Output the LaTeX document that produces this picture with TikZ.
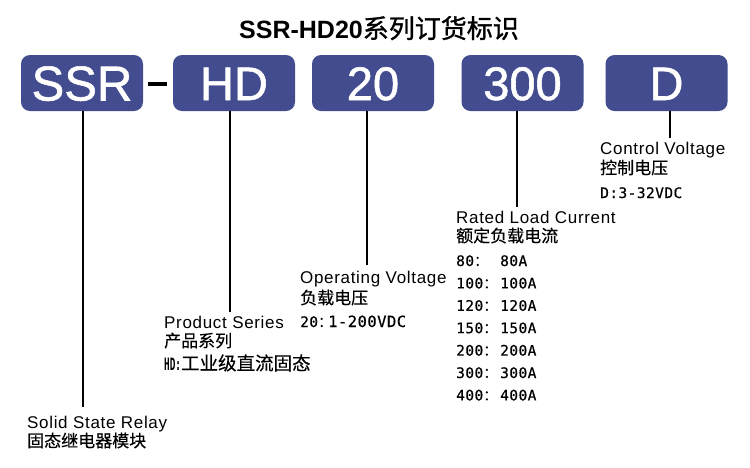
\documentclass[tikz,border=0pt]{standalone}
\usepackage{fontspec}
\usepackage{graphicx}
\setmainfont{Liberation Sans}
\newfontfamily\cjk[FakeBold=0.4]{Noto Sans CJK SC}
\newfontfamily\cjktitle[FakeBold=1.2]{Noto Sans CJK SC}
\newfontfamily\boxfont[FakeBold=1.2]{Liberation Sans}
\newfontfamily\mono[LetterSpace=3,FakeBold=0.5]{DejaVu Sans Mono}
\newfontfamily\monob{DejaVu Sans Mono}
\newfontfamily\lab[LetterSpace=4]{Liberation Sans}
\definecolor{boxblue}{RGB}{67,76,143}
\begin{document}
\begin{tikzpicture}[x=1pt,y=-1pt,
  codebox/.style={fill=boxblue, rounded corners=9pt, minimum width=122pt, minimum height=56pt,
    inner sep=0pt, text=white, font=\boxfont\fontsize{47}{47}\selectfont, text height=34pt, text depth=0pt},
  eng/.style={anchor=base west, inner sep=0pt, font=\lab\fontsize{17}{17}\selectfont},
  zh/.style={anchor=base west, inner sep=0pt, font=\cjk\fontsize{17}{17}\selectfont},
  code/.style={anchor=base west, inner sep=0pt, font=\mono\fontsize{14.5}{14.5}\selectfont},
  lead/.style={line width=1.5pt}]
\useasboundingbox (0,0) rectangle (750,467);
\fill[white] (0,0) rectangle (750,467);

% title
\node[anchor=base, inner sep=0pt] (title) at (379,38)
  {\fontsize{25}{25}\selectfont\bfseries SSR-HD20{\cjktitle\mdseries\fontsize{26}{26}\selectfont 系列订货标识}};

% code boxes
\node[codebox, font=\boxfont\fontsize{49}{49}\selectfont, text height=35pt] (bSSR) at (82,83) {SSR};
\node[fill=black, minimum width=19pt, minimum height=4pt, inner sep=0pt] (dash) at (157.5,84) {};
\node[codebox] (bHD) at (234,83) {HD};
\node[codebox] (b20) at (373,83) {20};
\node[codebox] (b300) at (522.5,83) {300};
\node[codebox] (bD) at (666.5,83) {D};

% leader ends
\coordinate (eSSR) at (83,407);
\coordinate (eHD) at (230,312);
\coordinate (e20) at (367,265);
\coordinate (e300) at (517,207);
\coordinate (eD) at (670,138);
\draw[lead] (bSSR.south -| eSSR) -- (eSSR);
\draw[lead] (bHD.south -| eHD) -- (eHD);
\draw[lead] (b20.south -| e20) -- (e20);
\draw[lead] (b300.south -| e300) -- (e300);
\draw[lead] (bD.south -| eD) -- (eD);

% SSR
\node[eng] (lSSR1) at (27,428) {Solid State Relay};
\node[zh] (lSSR2) at (27,447) {固态继电器模块};

% HD
\node[eng] (lHD1) at (164,328) {Product Series};
\node[zh] (lHD2) at (164,347) {产品系列};
\node[code] (lHD3) at (164,370) {\scalebox{0.55}[1]{\monob\bfseries\fontsize{17}{17}\selectfont HD:}{\cjk\fontsize{18.5}{18.5}\selectfont 工业级直流固态}};

% 20
\node[eng] (l201) at (300,283) {Operating Voltage};
\node[zh] (l202) at (300,304) {负载电压};
\node[code] (l203k) at (300,327) {20{\cjk ：}};
\node[code, font=\mono\fontsize{15.5}{15.5}\selectfont] (l203v) at (328,327) {1-200VDC};

% 300
\node[eng] (l3001) at (456,223) {Rated Load Current};
\node[zh] (l3002) at (456,242) {额定负载电流};
\foreach \k/\v [count=\i from 0] in {80/80A,100/100A,120/120A,150/150A,200/200A,300/300A,400/400A}{
  \node[code] (rk\i) at (456,{266+22.4*\i}) {\k{\cjk ：}};
  \node[code] (rv\i) at (500,{266+22.4*\i}) {\v};
}

% D
\node[eng] (lD1) at (600,154) {Control Voltage};
\node[zh] (lD2) at (600,174) {控制电压};
\node[code] (lD3) at (600,198) {D:3-32VDC};
\end{tikzpicture}
\end{document}
